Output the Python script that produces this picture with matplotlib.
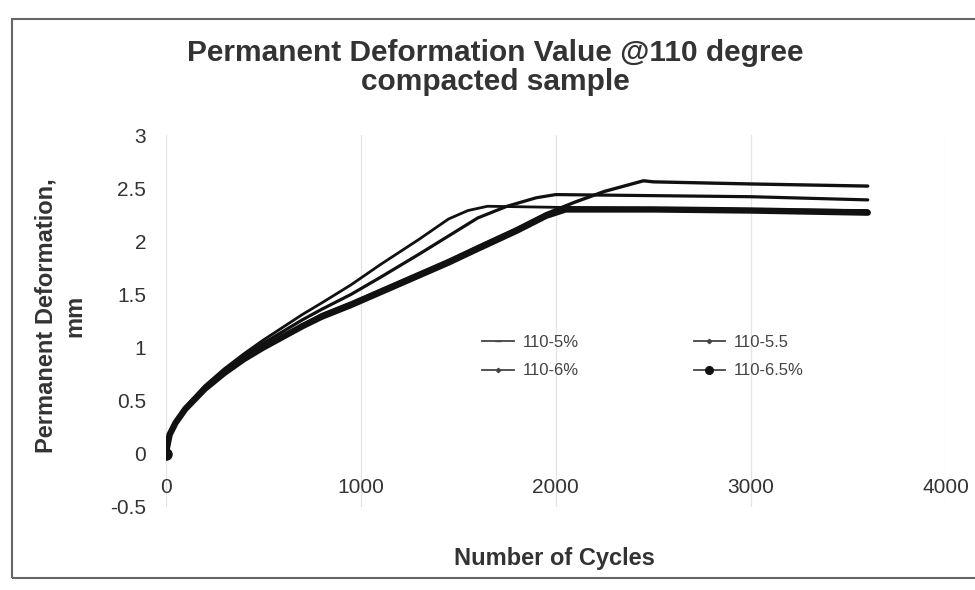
import matplotlib
matplotlib.use('Agg')
import matplotlib.pyplot as plt
from matplotlib.lines import Line2D
from matplotlib.patches import Rectangle

plt.rcParams['font.family'] = ['Liberation Sans', 'DejaVu Sans']

# cycles / permanent deformation (mm) for each mix
x_5 = [0, 20, 50, 100, 200, 300, 400, 500, 600, 700, 800, 950, 1100, 1300, 1450, 1550, 1650, 2000, 2500, 3000, 3600]
y_5 = [0, 0.19, 0.30, 0.44, 0.64, 0.80, 0.94, 1.07, 1.19, 1.31, 1.42, 1.59, 1.78, 2.02, 2.21, 2.29, 2.33, 2.32, 2.31, 2.30, 2.29]

x_55 = [0, 20, 50, 100, 200, 300, 400, 500, 600, 700, 800, 950, 1100, 1300, 1450, 1600, 1750, 1900, 2000, 2500, 3000, 3600]
y_55 = [0, 0.19, 0.30, 0.43, 0.63, 0.78, 0.92, 1.04, 1.15, 1.26, 1.36, 1.50, 1.66, 1.88, 2.05, 2.22, 2.33, 2.41, 2.44, 2.43, 2.42, 2.39]

x_6 = [0, 20, 50, 100, 200, 300, 400, 500, 600, 700, 800, 950, 1100, 1300, 1450, 1600, 1800, 1950, 2100, 2250, 2450, 2500, 3000, 3600]
y_6 = [0, 0.19, 0.30, 0.43, 0.62, 0.77, 0.90, 1.01, 1.11, 1.21, 1.31, 1.42, 1.54, 1.70, 1.82, 1.95, 2.12, 2.26, 2.37, 2.47, 2.57, 2.56, 2.54, 2.52]

x_65 = [0, 20, 50, 100, 200, 300, 400, 500, 600, 700, 800, 950, 1100, 1300, 1450, 1600, 1800, 1950, 2050, 2500, 3000, 3600]
y_65 = [0, 0.18, 0.29, 0.42, 0.61, 0.76, 0.89, 1.00, 1.10, 1.20, 1.29, 1.40, 1.52, 1.68, 1.80, 1.93, 2.10, 2.24, 2.30, 2.30, 2.29, 2.27]

labels = ['110-5%', '110-5.5', '110-6%', '110-6.5%']
x_ticks = [0, 1000, 2000, 3000, 4000]
y_ticks = [-0.5, 0, 0.5, 1, 1.5, 2, 2.5, 3]

fig = plt.figure(figsize=(9.75, 5.9), dpi=100)
ax = fig.add_axes([0.170, 0.141, 0.800, 0.630])

ink = '#111111'
ax.plot(x_5, y_5, color=ink, lw=2.0, solid_capstyle='round')
ax.plot(x_55, y_55, color=ink, lw=2.3, solid_capstyle='round')
ax.plot(x_6, y_6, color=ink, lw=2.4, solid_capstyle='round')
ax.plot(x_65, y_65, color=ink, lw=4.6, solid_capstyle='round')
ax.plot([0], [0], 'o', color=ink, ms=8)

ax.set_xlim(0, 4000)
ax.set_ylim(-0.5, 3)
ax.set_xticks(x_ticks)
ax.set_yticks(y_ticks)
ax.set_yticklabels(['-0.5', '0', '0.5', '1', '1.5', '2', '2.5', '3'])
ax.tick_params(length=0, labelsize=15, labelcolor='#333333')
ax.tick_params(axis='x', pad=-21)
ax.tick_params(axis='y', pad=14)
ax.grid(axis='x', color='#e4e4e4', lw=0.9)
ax.grid(axis='y', visible=False)
for s in ax.spines.values():
    s.set_visible(False)

# legend laid out row by row: 5% | 5.5 / 6% | 6.5%
h5 = Line2D([], [], color='#444444', lw=1.3, marker='_', ms=4)
h55 = Line2D([], [], color='#444444', lw=1.3, marker='D', ms=2.2)
h6 = Line2D([], [], color='#444444', lw=1.3, marker='D', ms=2.2)
h65 = Line2D([], [], color='#444444', lw=1.3, marker='o', ms=5.5, mfc=ink, mec=ink)
ax.legend([h5, h6, h55, h65], [labels[0], labels[2], labels[1], labels[3]],
          ncol=2, frameon=False, fontsize=12, labelcolor='#444444',
          handlelength=1.9, handletextpad=0.5, columnspacing=6.9,
          labelspacing=0.8, loc='upper left', borderaxespad=0, borderpad=0,
          bbox_to_anchor=(0.406, 0.462))

fig.text(0.508, 0.885, 'Permanent Deformation Value @110 degree\ncompacted sample',
         ha='center', va='center', fontsize=21.5, fontweight='bold', color='#333333',
         linespacing=1.05)
fig.text(0.062, 0.465, 'Permanent Deformation,\nmm', rotation=90, ha='center',
         va='center', fontsize=17, fontweight='bold', color='#333333',
         linespacing=1.3, multialignment='center')
fig.text(0.569, 0.053, 'Number of Cycles', ha='center', va='center',
         fontsize=17, fontweight='bold', color='#333333')

# chart border
fig.patches.append(Rectangle((0.012, 0.020), 1.2, 0.948, transform=fig.transFigure,
                             fill=False, ec='#666666', lw=1.5))

fig.savefig('out.png', dpi=100)
